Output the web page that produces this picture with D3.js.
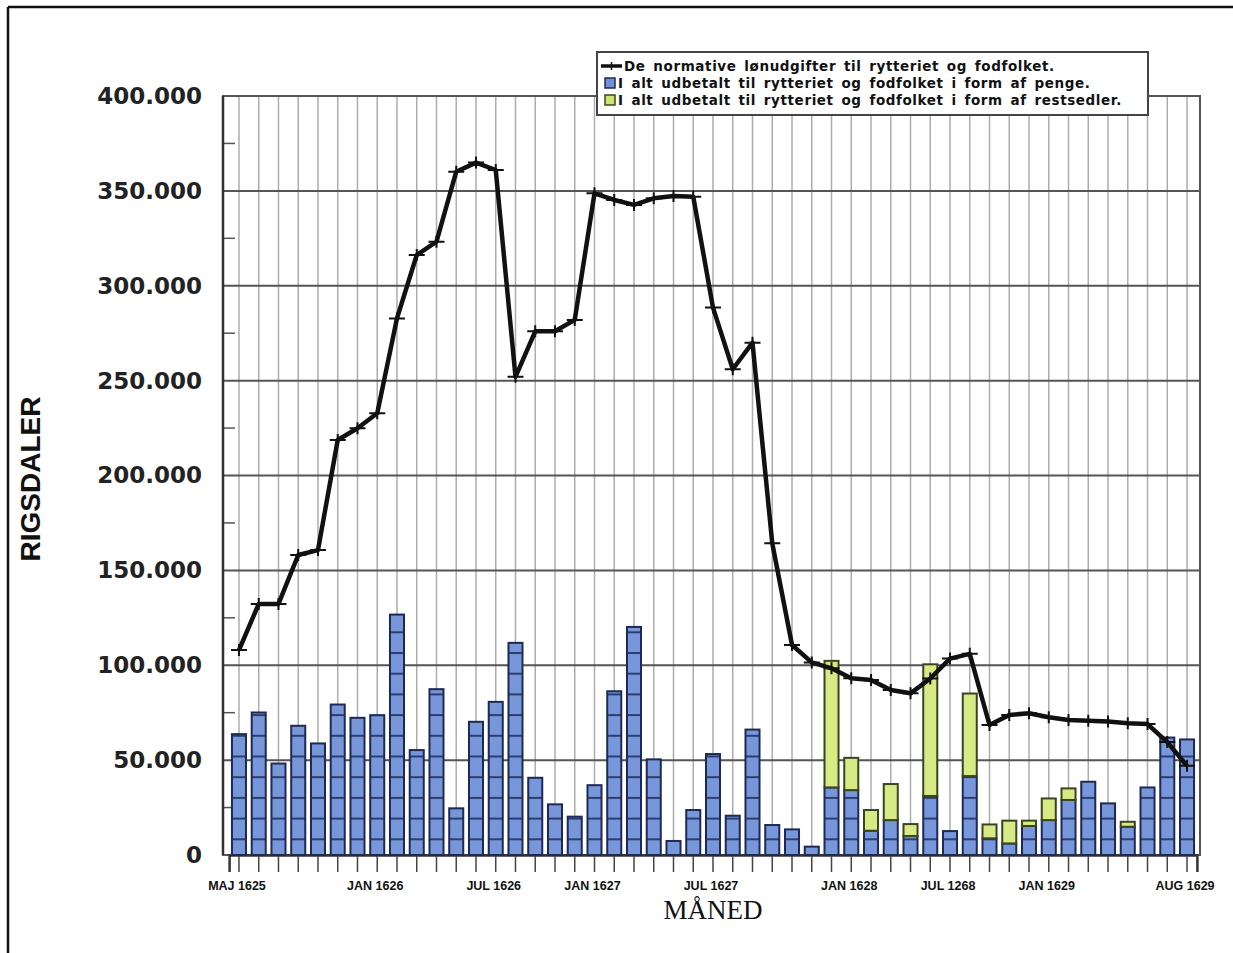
<!DOCTYPE html>
<html>
<head>
<meta charset="utf-8">
<script src="https://cdn.jsdelivr.net/npm/d3@7"></script>
<style>
  html, body { margin: 0; padding: 0; background: #fff; }
  svg { display: block; }
</style>
</head>
<body>
<svg id="chart" width="1233" height="953"></svg>
<script>
// ---------- DATA ----------
const monthIndex = d3.range(49); // 49 monthly columns, May 1625 .. Aug 1629 as drawn

const tickLabelIndex = [0, 7, 13, 18, 24, 31, 36, 41, 48];
const tickLabels = ["MAJ 1625", "JAN 1626", "JUL 1626", "JAN 1627", "JUL 1627", "JAN 1628", "JUL 1268", "JAN 1629", "AUG 1629"];

const yTicks = [0, 50000, 100000, 150000, 200000, 250000, 300000, 350000, 400000];

// normative wage expenses (line)
const normative = [108000, 132300, 132300, 158100, 160700, 218700, 224900, 232800, 282800, 316200,
  323200, 360100, 364900, 361000, 252000, 276000, 276000, 282000, 348700, 345200,
  342600, 346100, 347300, 346900, 288500, 256000, 270000, 164300, 110700, 101500,
  98400, 93100, 92200, 87000, 85200, 93000, 103500, 106000, 68500, 73800,
  74700, 72600, 71100, 70800, 70300, 69400, 69000, 59500, 47000];

// paid out in money (blue)
const penge = [63700, 75100, 48200, 68100, 58800, 79300, 72300, 73700, 126700, 55300,
  87400, 24600, 70200, 80700, 111800, 40700, 26700, 20200, 36800, 86300,
  120200, 50400, 7400, 23700, 53200, 20700, 66100, 15800, 13500, 4400,
  35600, 34200, 12800, 18400, 10000, 31100, 12600, 41600, 8800, 6100,
  15300, 18400, 29000, 38600, 27200, 14900, 35600, 61900, 60900];

// paid out in "restsedler" (green)
const restsedler = [0, 0, 0, 0, 0, 0, 0, 0, 0, 0,
  0, 0, 0, 0, 0, 0, 0, 0, 0, 0,
  0, 0, 0, 0, 0, 0, 0, 0, 0, 0,
  66700, 17000, 10900, 19000, 6300, 69400, 0, 43500, 7300, 12000,
  2800, 11400, 6100, 0, 0, 2600, 0, 0, 0];

const legendLabels = [
  "De normative lønudgifter til rytteriet og fodfolket.",
  "I alt udbetalt til rytteriet og fodfolket i form af penge.",
  "I alt udbetalt til rytteriet og fodfolket i form af restsedler."
];

// ---------- LAYOUT ----------
const svg = d3.select("#chart");
const plot = { left: 223, right: 1200, top: 96, bottom: 855 };

const x = d3.scaleBand()
  .domain(monthIndex)
  .range([229.1, 1196.9])
  .paddingInner(0.29)
  .paddingOuter(0.145);

const y = d3.scaleLinear().domain([0, 400000]).range([plot.bottom, plot.top]);

const cx = i => x(i) + x.bandwidth() / 2;

// outer frame (top + left)
svg.append("line").attr("x1", 8).attr("x2", 1233).attr("y1", 7).attr("y2", 7)
  .attr("stroke", "#111").attr("stroke-width", 2.5);
svg.append("line").attr("x1", 8).attr("x2", 8).attr("y1", 7).attr("y2", 953)
  .attr("stroke", "#111").attr("stroke-width", 2.5);

// patterns
const defs = svg.append("defs");
const pBlue = defs.append("pattern").attr("id", "pBlue")
  .attr("patternUnits", "userSpaceOnUse").attr("width", 40).attr("height", 20.7)
  .attr("y", plot.bottom - 16.7);
pBlue.append("rect").attr("width", 40).attr("height", 20.7).attr("fill", "#7797da");
pBlue.append("rect").attr("y", 0).attr("width", 40).attr("height", 2).attr("fill", "#2c3d70");

const pGreen = defs.append("pattern").attr("id", "pGreen")
  .attr("patternUnits", "userSpaceOnUse").attr("width", 40).attr("height", 20.7)
  .attr("y", plot.bottom - 16.7);
pGreen.append("rect").attr("width", 40).attr("height", 20.7).attr("fill", "#d8ea86");

// vertical gridlines
svg.append("g").selectAll("line").data(monthIndex).join("line")
  .attr("x1", d => cx(d)).attr("x2", d => cx(d))
  .attr("y1", plot.top).attr("y2", plot.bottom)
  .attr("stroke", "#adadad").attr("stroke-width", 1.5);

// horizontal gridlines
svg.append("g").selectAll("line").data(yTicks.filter(d => d > 0 && d < 400000)).join("line")
  .attr("x1", plot.left).attr("x2", plot.right)
  .attr("y1", d => y(d)).attr("y2", d => y(d))
  .attr("stroke", "#555").attr("stroke-width", 2);

// minor ticks on the left axis (inward)
const minor = d3.range(25000, 400000, 50000);
svg.append("g").selectAll("line").data(minor).join("line")
  .attr("x1", plot.left).attr("x2", plot.left + 12)
  .attr("y1", d => y(d)).attr("y2", d => y(d))
  .attr("stroke", "#555").attr("stroke-width", 1.5);

// plot frame
svg.append("rect").attr("x", plot.left).attr("y", plot.top)
  .attr("width", plot.right - plot.left).attr("height", plot.bottom - plot.top)
  .attr("fill", "none").attr("stroke", "#555").attr("stroke-width", 2);
svg.append("line").attr("x1", plot.left).attr("x2", plot.left)
  .attr("y1", plot.top).attr("y2", plot.bottom).attr("stroke", "#333").attr("stroke-width", 2.5);

// x-axis ticks
const xAxis = d3.axisBottom(x).tickSize(17).tickFormat("");
const gx = svg.append("g").attr("transform", `translate(0,${plot.bottom})`).call(xAxis);
gx.select(".domain").attr("stroke", "#333").attr("stroke-width", 2.5);
gx.selectAll(".tick line").attr("stroke", "#444").attr("stroke-width", 1.5);

// x tick labels
svg.append("g").selectAll("text").data(tickLabelIndex).join("text")
  .attr("x", (d) => cx(d) - 2).attr("y", 890)
  .attr("text-anchor", "middle")
  .attr("font-family", "'Liberation Sans Narrow', 'Liberation Sans', sans-serif")
  .attr("font-weight", "bold").attr("font-size", 12.5)
  .attr("fill", "#111")
  .text((d, i) => tickLabels[i]);

// y-axis labels
const yAxis = d3.axisLeft(y).tickValues(yTicks).tickSize(0).tickPadding(0)
  .tickFormat(d => d === 0 ? "0" : d3.format(",")(d).replace(/,/g, "."));
const gy = svg.append("g").attr("transform", `translate(202,0)`).call(yAxis);
gy.select(".domain").remove();
gy.selectAll("text")
  .attr("font-family", "'DejaVu Sans', sans-serif")
  .attr("font-weight", "bold").attr("font-size", 23)
  .attr("fill", "#222");

// axis titles
svg.append("text")
  .attr("transform", `translate(40,479) rotate(-90)`)
  .attr("text-anchor", "middle")
  .attr("font-family", "'Liberation Sans', Arial, sans-serif")
  .attr("font-weight", "bold").attr("font-size", 28)
  .attr("fill", "#111")
  .text("RIGSDALER");

svg.append("text")
  .attr("x", 713).attr("y", 919)
  .attr("text-anchor", "middle")
  .attr("font-family", "'Liberation Serif', 'Times New Roman', serif")
  .attr("font-size", 27)
  .attr("fill", "#111")
  .text("MÅNED");

// stacked bars
const table = monthIndex.map(i => ({ i, penge: penge[i], restsedler: restsedler[i] }));
const stack = d3.stack().keys(["penge", "restsedler"])(table);
const fills = { penge: "url(#pBlue)", restsedler: "url(#pGreen)" };
const strokes = { penge: "#1e2a55", restsedler: "#3a4520" };

svg.append("g").selectAll("g").data(stack).join("g")
  .each(function (layer) {
    d3.select(this).selectAll("rect")
      .data(layer.filter(d => d[1] - d[0] > 0))
      .join("rect")
      .attr("x", d => x(d.data.i))
      .attr("y", d => y(d[1]))
      .attr("width", x.bandwidth())
      .attr("height", d => y(d[0]) - y(d[1]))
      .attr("fill", fills[layer.key])
      .attr("stroke", strokes[layer.key])
      .attr("stroke-width", 2);
  });

// normative line
const line = d3.line().x((d, i) => cx(i)).y(d => y(d));
svg.append("path").datum(normative)
  .attr("d", line)
  .attr("fill", "none").attr("stroke", "#111").attr("stroke-width", 4.5)
  .attr("stroke-linejoin", "round");

svg.append("g").selectAll("path").data(normative).join("path")
  .attr("transform", (d, i) => `translate(${cx(i)},${y(d)})`)
  .attr("d", "M-8,0H8M0,-6V6")
  .attr("stroke", "#111").attr("stroke-width", 2);

// legend
const lg = svg.append("g");
lg.append("rect").attr("x", 597).attr("y", 52).attr("width", 551).attr("height", 63)
  .attr("fill", "#fff").attr("stroke", "#444").attr("stroke-width", 2);
const rowY = [66, 83, 100];
// line sample
lg.append("path").attr("d", `M601,${rowY[0]}H622`).attr("stroke", "#111").attr("stroke-width", 3.5);
lg.append("path").attr("d", `M606,${rowY[0]}H617M611.5,${rowY[0] - 4}V${rowY[0] + 4}`)
  .attr("stroke", "#111").attr("stroke-width", 1.5);
lg.append("rect").attr("x", 605).attr("y", rowY[1] - 5).attr("width", 10).attr("height", 10)
  .attr("fill", "#6f8fd6").attr("stroke", "#1e2a55").attr("stroke-width", 1.5);
lg.append("rect").attr("x", 605).attr("y", rowY[2] - 5).attr("width", 10).attr("height", 10)
  .attr("fill", "#d0e474").attr("stroke", "#3a4520").attr("stroke-width", 1.5);
lg.selectAll("text.lt").data(legendLabels).join("text").attr("class", "lt")
  .attr("x", (d, i) => i === 0 ? 624 : 618)
  .attr("y", (d, i) => rowY[i] + 5)
  .attr("font-family", "'DejaVu Sans', sans-serif")
  .attr("font-weight", "bold").attr("font-size", 13.5)
  .attr("letter-spacing", 0.6).attr("word-spacing", 2.5)
  .attr("fill", "#111")
  .text(d => d);
</script>
</body>
</html>
